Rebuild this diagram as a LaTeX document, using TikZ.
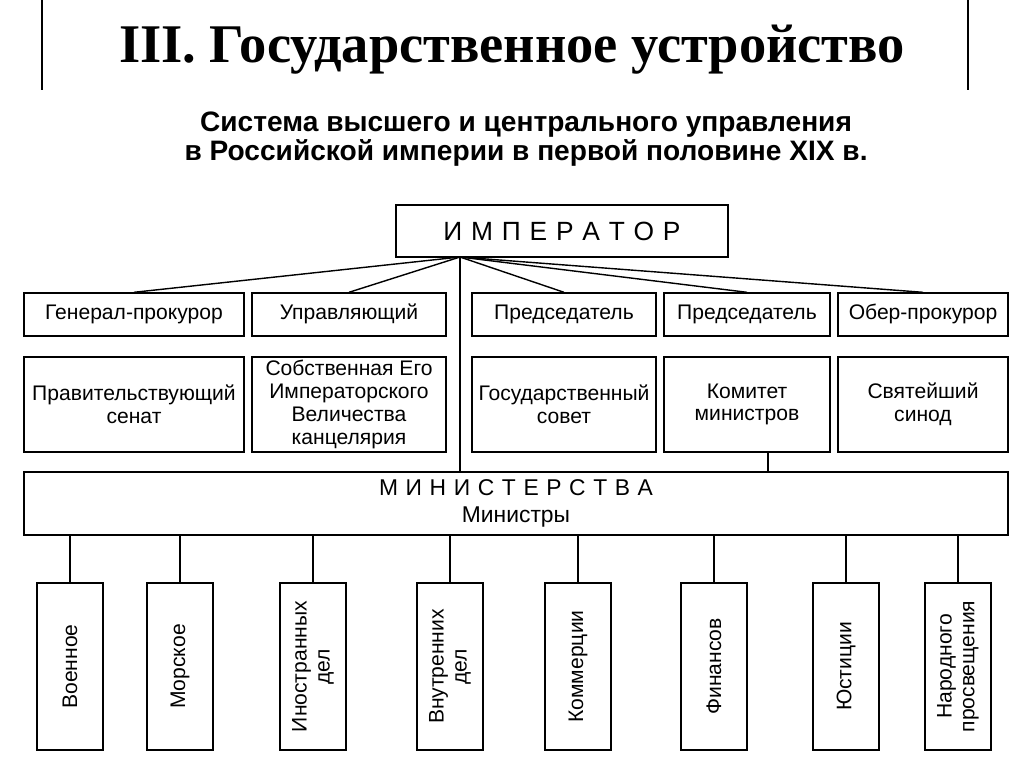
\documentclass[tikz,border=0pt]{standalone}
\usepackage{fontspec}
\setmainfont{Liberation Sans}
\newfontfamily\titlefont{Liberation Serif}
\usetikzlibrary{positioning}
\tikzset{
  box/.style={draw, thick, inner sep=1pt, align=center, font=\fontsize{12}{13}\selectfont},
  headbox/.style={box, text height=1.6ex, text depth=0.5ex},
  vbox/.style={draw, thick, minimum width=1.32cm, minimum height=3.34cm},
  link/.style={thick}
}
\begin{document}
\begin{tikzpicture}[x=0.02cm,y=-0.02cm]
  \useasboundingbox (0,0) rectangle (1024,767);
  % Title
  \draw[thick] (42,0) -- (42,90);
  \draw[thick] (968,0) -- (968,90);
  \node (title) at (512,50) {\titlefont\bfseries\fontsize{31}{34}\selectfont III. Государственное устройство};
  \node[align=center, font=\bfseries\fontsize{16}{14}\selectfont] (sub) at (526,139)
    {Система высшего и центрального управления\\в Российской империи в первой половине XIX в.};
  % Emperor
  \node[box, minimum width=6.64cm, minimum height=1.04cm, font=\fontsize{15}{16}\selectfont] (emp) at (562,231)
    {И\,\,М\,\,П\,\,Е\,\,Р\,\,А\,\,Т\,\,О\,\,Р};
  \coordinate (hub) at (460,257);
  % Upper rows
  \foreach \n/\l/\r/\head/\body in {
    a/24/244/Генерал-прокурор/{Правительствующий\\сенат},
    b/252/446/Управляющий/{Собственная Его\\Императорского\\Величества\\канцелярия},
    c/472/656/Председатель/{Государственный\\совет},
    d/664/830/Председатель/{Комитет\\министров},
    e/838/1008/Обер-прокурор/{Святейший\\синод}} {
    \node[headbox, minimum width={(\r-\l)*0.02cm}, minimum height=0.86cm] (h\n) at ({(\l+\r)/2},314.5) {\head};
    \node[box, minimum width={(\r-\l)*0.02cm}, minimum height=1.9cm] (s\n) at ({(\l+\r)/2},404.5) {\body};
    \draw[link] (hub) -- (h\n.north);
  }
  % Ministries
  \node[box, minimum width=19.68cm, minimum height=1.26cm, font=\fontsize{13}{15}\selectfont] (min) at (516,503.5)
    {М\,\,И\,\,Н\,\,И\,\,С\,\,Т\,\,Е\,\,Р\,\,С\,\,Т\,\,В\,\,А\\Министры};
  \draw[link] (hub) -- (hub |- min.north);
  \draw[link] (sd.south -| 768,0) -- (768,472);
  % Ministries list
  \foreach \n/\x/\t in {
    m1/70/Военное, m2/180/Морское, m3/313/{Иностранных\\дел}, m4/450/{Внутренних\\дел},
    m5/578/Коммерции, m6/714/Финансов, m7/846/Юстиции, m8/958/{Народного\\просвещения}} {
    \node[vbox] (\n) at (\x,666.5) {};
    \node[rotate=90, align=center, font=\fontsize{12}{13}\selectfont] at (\n) {\t};
    \draw[link] (\n.north) -- (\n.north |- min.south);
  }
\end{tikzpicture}
\end{document}
